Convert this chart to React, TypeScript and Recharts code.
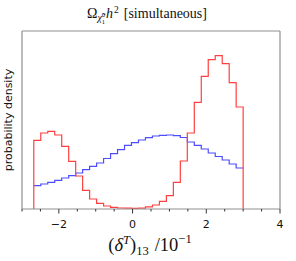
import React from 'react';
import { ComposedChart, Line, XAxis, YAxis, ReferenceLine } from 'recharts';

// Histogram binning (30 equal bins)
const BIN_LO = -2.68;
const BIN_HI = 3.0;
const BIN_COUNT = 30;

// Red histogram (probability density, arbitrary units)
const RED_VALUES = [
  68.7, 76, 77.7, 74, 62.7, 47.7, 33, 18.7, 10, 5.7,
  3, 1.6, 1, 0.8, 0.7, 0.9, 2.2, 4, 7.7, 13.4,
  26.7, 48, 76, 106.7, 132.7, 149.4, 153.4, 145.4, 126.4, 102,
];

// Blue histogram
const BLUE_VALUES = [
  23.4, 25, 26.7, 28.7, 31, 33.4, 36, 39.4, 42.7, 46,
  50.5, 55.4, 59.4, 63.7, 66.4, 69, 71.4, 73, 73.7, 74,
  73.4, 71.5, 67, 63.7, 60, 56, 52.5, 49, 45, 41,
];

const X_DOMAIN = [-3, 4];
const Y_MAX = 178;
const ALL_TICKS = [-3, -2.5, -2, -1.5, -1, -0.5, 0, 0.5, 1, 1.5, 2, 2.5, 3, 3.5, 4];
const MAJOR_TICKS = [-2, 0, 2, 4];
const MAJOR_LABELS = ['\u22122', '0', '2', '4'];

const edges: number[] = [];
for (let i = 0; i <= BIN_COUNT; i++) edges.push(BIN_LO + ((BIN_HI - BIN_LO) * i) / BIN_COUNT);

function stepData(values: number[], dropEnds: boolean) {
  const d: { x: number; y: number }[] = [];
  if (dropEnds) d.push({ x: edges[0], y: 0 });
  values.forEach((v, i) => d.push({ x: edges[i], y: v }));
  d.push({ x: edges[values.length], y: values[values.length - 1] });
  if (dropEnds) d.push({ x: edges[values.length], y: 0 });
  return d;
}

const redData = stepData(RED_VALUES, true);
const blueData = stepData(BLUE_VALUES, false);

const FRAME = '#8f8f8f';

const Tick = (props: any) => {
  const { x, y, payload } = props;
  const idx = MAJOR_TICKS.indexOf(payload.value);
  const major = idx >= 0;
  return (
    <g>
      <line x1={x} x2={x} y1={y} y2={y + (major ? 4.5 : 2.5)} stroke="#333" strokeWidth={1} />
      {major && (
        <text x={x} y={y + 18.5} textAnchor="middle" fontFamily="DejaVu Sans" fontSize={11} fill="#111">
          {MAJOR_LABELS[idx]}
        </text>
      )}
    </g>
  );
};

export default function App() {
  return (
    <div style={{ position: 'absolute', left: 0, top: 0, width: 296, height: 261, background: '#fff' }}>
      <ComposedChart
        width={296}
        height={261}
        margin={{ top: 31, right: 16, bottom: 22, left: 22 }}
      >
        <XAxis
          type="number"
          dataKey="x"
          domain={X_DOMAIN}
          ticks={ALL_TICKS}
          interval={0}
          allowDataOverflow
          height={30}
          tickSize={0}
          tickMargin={0}
          tickLine={false}
          tick={<Tick />}
          axisLine={{ stroke: FRAME, strokeWidth: 1.2 }}
        />
        <YAxis hide type="number" domain={[0, Y_MAX]} allowDataOverflow />
        <ReferenceLine x={X_DOMAIN[0]} stroke={FRAME} strokeWidth={1.2} />
        <ReferenceLine x={X_DOMAIN[1]} stroke={FRAME} strokeWidth={1.2} />
        <ReferenceLine y={Y_MAX} stroke={FRAME} strokeWidth={1.2} />
        <Line
          data={blueData}
          dataKey="y"
          type="stepAfter"
          stroke="#4d4dff"
          strokeWidth={1.2}
          dot={false}
          activeDot={false}
          isAnimationActive={false}
        />
        <Line
          data={redData}
          dataKey="y"
          type="stepAfter"
          stroke="#ff4040"
          strokeWidth={1.2}
          dot={false}
          activeDot={false}
          isAnimationActive={false}
        />
      </ComposedChart>
      <svg
        width={296}
        height={261}
        style={{ position: 'absolute', left: 0, top: 0, pointerEvents: 'none' }}
      >
        <text x={87} y={18.3} fontFamily="Liberation Serif" fontSize={14} fill="#111">
          <tspan>Ω</tspan>
          <tspan dy={3} fontSize={10} fontStyle="italic">χ̃</tspan>
          <tspan dy={-4.5} fontSize={6.5}>0</tspan>
          <tspan dx={-3.3} dy={7.5} fontSize={6.5}>1</tspan>
          <tspan dx={1} dy={-6} fontStyle="italic">h</tspan>
          <tspan dx={1} dy={-5} fontSize={9.5}>2</tspan>
          <tspan dx={5} dy={5}>[simultaneous]</tspan>
        </text>
        <text
          x={0}
          y={0}
          transform="translate(8,120) rotate(-90)"
          textAnchor="middle"
          dominantBaseline="central"
          fontFamily="DejaVu Sans"
          fontSize={11}
          fill="#111"
        >
          probability density
        </text>
        <text x={150} y={251} textAnchor="middle" fontFamily="Liberation Serif" fontSize={18.5} fill="#111">
          <tspan>(</tspan>
          <tspan fontStyle="italic">δ</tspan>
          <tspan dy={-7.5} fontSize={12.5} fontStyle="italic">T</tspan>
          <tspan dy={7.5}>)</tspan>
          <tspan dy={3.5} fontSize={12.5}>13</tspan>
          <tspan dx={6} dy={-3.5}>/10</tspan>
          <tspan dy={-8} fontSize={12.5}>−1</tspan>
        </text>
      </svg>
    </div>
  );
}
